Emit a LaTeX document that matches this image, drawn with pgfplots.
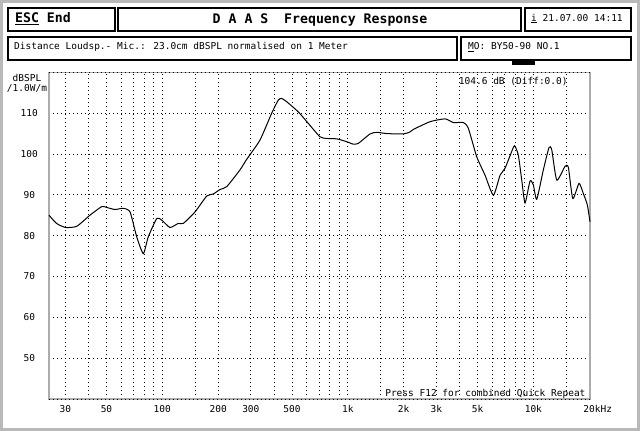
\documentclass[border=0pt]{standalone}
\usepackage{pgfplots}
\pgfplotsset{compat=1.18}
\usepackage{fontspec}
\setmainfont{DejaVu Sans Mono}
\begin{document}
\begin{tikzpicture}
\useasboundingbox (0pt,0pt) rectangle (640pt,-431pt);
% outer dithered border
\draw[gray!55, line width=3pt] (1.5pt,-1.5pt) rectangle (638.5pt,-429.5pt);
\begin{scope}[x=1pt,y=-1pt]
  \draw[black, line width=2.4pt] (8,8) rectangle (115,31);
  \draw[black, line width=2.4pt] (118,8) rectangle (521,31);
  \draw[black, line width=2.4pt] (525,8) rectangle (631,31);
  \draw[black, line width=2.4pt] (8,37) rectangle (457,60);
  \draw[black, line width=2.4pt] (461,37) rectangle (631,60);
  \fill[black] (512,60) rectangle (535,65);
  \node[anchor=west, inner sep=0pt, font=\fontsize{13.2}{15}\selectfont\bfseries] at (15,19) {\underline{ESC} End};
  \node[anchor=center, inner sep=0pt, font=\fontsize{13.2}{15}\selectfont\bfseries] at (320,19.5) {D A A S\ \ Frequency Response};
  \node[anchor=west, inner sep=0pt, font=\fontsize{9.5}{11}\selectfont] at (531,18.5) {\underline{i} 21.07.00 14:11};
  \node[anchor=west, inner sep=0pt, font=\fontsize{9.5}{11}\selectfont] at (14,47) {Distance Loudsp.- Mic.: 23.0cm dBSPL normalised on 1 Meter};
  \node[anchor=west, inner sep=0pt, font=\fontsize{9.5}{11}\selectfont] at (468,47) {\underline{M}O: BY50-90 NO.1};
  \node[anchor=center, inner sep=0pt, font=\fontsize{9.5}{11}\selectfont] at (27,77.5) {dBSPL};
  \node[anchor=center, inner sep=0pt, font=\fontsize{9.5}{11}\selectfont] at (27,88.5) {/1.0W/m};
\end{scope}
\begin{axis}[
  at={(49pt,-72.3pt)}, anchor=north west,
  scale only axis, width=541pt, height=326.7pt,
  xmode=log, log basis x=10,
  xmin=24.5, xmax=20200, ymin=40, ymax=120,
  xtick={30,50,100,200,300,500,1000,2000,3000,5000,10000,20000},
  xticklabels={30,50,100,200,300,500,1k,2k,3k,5k,10k,20\rlap{kHz}},
  minor xtick={40,60,70,80,90,150,400,600,700,800,900,1500,4000,6000,7000,8000,9000,15000},
  ytick={50,60,70,80,90,100,110},
  extra y ticks={40,120}, extra y tick labels={},
  grid=both,
  major grid style={black, line width=0.8pt, dash pattern=on 0.8pt off 3.2pt},
  minor grid style={black, line width=0.8pt, dash pattern=on 0.8pt off 3.2pt},
  major tick length=0pt, minor tick length=0pt,
  axis line style={gray!65, line width=1.6pt},
  /pgf/number format/assume math mode=true,
  ticklabel style={font=\fontsize{9.5}{11}\selectfont},
  xticklabel style={inner sep=0pt, yshift=-6pt},
  yticklabel style={inner sep=0pt, text width=18pt, align=center, anchor=east, xshift=-10.5pt},
  clip=false,
]
\addplot[black, line width=1pt, smooth, tension=0.35] coordinates {
(24.5,85.0) (26.9,83.0) (30.1,82.0) (34.6,82.3) (40.7,85.0) (47.1,87.1)
(50.2,86.9) (55.6,86.4) (61.6,86.7) (67.0,85.8) (72.8,79.7) (79.0,75.6)
(84.0,79.7) (93.3,84.2) (99.3,83.8) (110,82.0) (121.9,83.0) (129.8,83.0)
(150,85.8) (173.5,89.7) (188.3,90.2) (204.6,91.3) (222.4,92.0) (262.2,96.1)
(285,98.7) (336,103.4) (388.8,110.0) (421.9,113.2) (440,113.6) (468,112.8)
(540.9,110.3) (612,107.5) (708,104.2) (769.6,103.8) (871,103.7) (986.6,103.0)
(1071,102.4) (1139,102.6) (1317,104.9) (1431,105.3) (1621,105.0) (1991,104.9)
(2164,105.4) (2254,106.0) (2773,107.9) (3343,108.6) (3705,107.7) (4194,107.7)
(4461,106.3) (4954,99.3) (5490,94.8) (6088,89.9) (6615,94.8) (7036,96.5)
(7800,101.6) (7965,101.9) (8301,99.7) (8658,93.6) (9018,88.0) (9597,93.4)
(9998,92.4) (10430,88.9) (11319,96.1) (12152,101.6) (12566,101.0) (13372,93.6)
(14825,97.0) (15445,96.7) (16312,89.1) (17630,92.8) (18598,90.3) (19551,87.5)
(20200,83.4)
};
\node[anchor=north east, inner sep=0pt, font=\fontsize{9.5}{11}\selectfont] at (rel axis cs:0.959,0.984) {104.6 dB (Diff:0.0)};
\node[anchor=south east, inner sep=0pt, font=\fontsize{9.5}{11}\selectfont] at (rel axis cs:0.992,0.0) {Press F12 for combined Quick Repeat};
\end{axis}
\end{tikzpicture}
\end{document}
